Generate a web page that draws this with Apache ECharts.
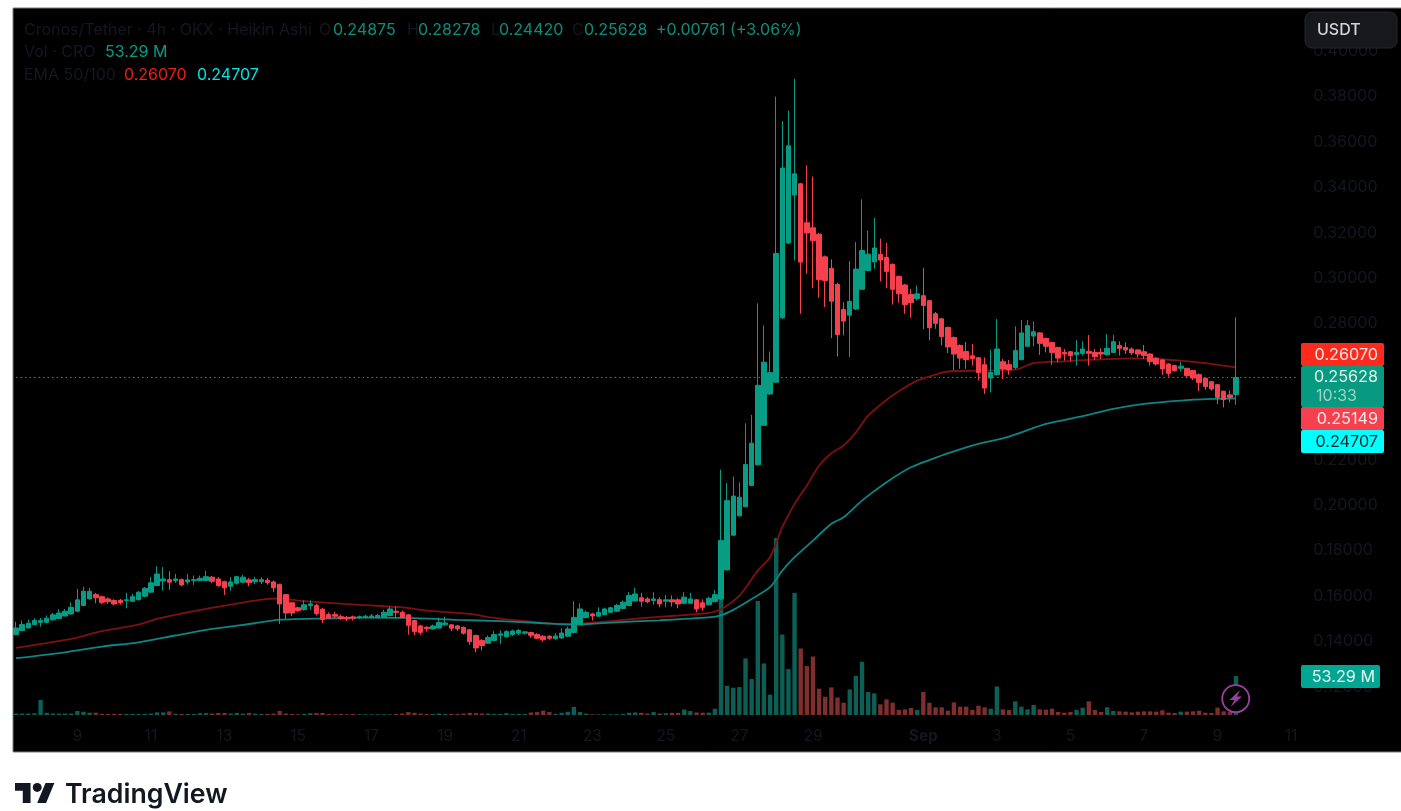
<!DOCTYPE html>
<html><head><meta charset="utf-8">
<style>html,body{margin:0;padding:0;background:#fff}#c{width:1401px;height:811px}</style>
<script src="https://cdn.jsdelivr.net/npm/echarts@6/dist/echarts.min.js"></script>
</head><body><div id="c"></div>
<script>
const opens=[.1430,.1448,.1459,.1474,.1484,.1484,.1495,.1501,.1512,.1521,
.1533,.1558,.1587,.1606,.1597,.1587,.1580,.1581,.1580,.1577,
.1584,.1599,.1617,.1646,.1666,.1672,.1668,.1672,.1662,.1668,
.1668,.1668,.1683,.1675,.1663,.1643,.1656,.1661,.1671,.1663,
.1663,.1669,.1662,.1652,.1606,.1570,.1548,.1540,.1558,.1558,
.1542,.1518,.1518,.1509,.1506,.1508,.1504,.1505,.1505,.1506,
.1506,.1514,.1533,.1528,.1517,.1492,.1468,.1462,.1455,.1459,
.1473,.1473,.1468,.1462,.1451,.1426,.1404,.1392,.1404,.1427,
.1420,.1430,.1436,.1436,.1439,.1430,.1423,.1423,.1412,.1415,
.1423,.1439,.1474,.1505,.1521,.1511,.1518,.1528,.1533,.1545,
.1558,.1578,.1592,.1587,.1580,.1584,.1577,.1583,.1583,.1568,
.1568,.1583,.1570,.1561,.1575,.1587,.1715,.1868,.1953,.1993,
.2087,.2178,.2352,.2490,.2542,.2826,.3155,.3366,.3416,.3244,
.3222,.3194,.3094,.3043,.2973,.2862,.2837,.2864,.2951,.3034,
.3072,.3105,.3091,.3061,.3008,.2970,.2928,.2911,.2923,.2901,
.2843,.2821,.2783,.2739,.2704,.2677,.2658,.2650,.2619,.2560,
.2575,.2632,.2619,.2607,.2641,.2700,.2745,.2759,.2735,.2717,
.2695,.2673,.2676,.2663,.2669,.2678,.2673,.2673,.2663,.2673,
.2703,.2695,.2688,.2684,.2676,.2666,.2648,.2640,.2622,.2615,
.2603,.2603,.2593,.2575,.2559,.2544,.2531,.2502,.2486,.24875];
const closes=[.1459,.1474,.1480,.1492,.1492,.1502,.1517,.1525,.1533,.1550,
.1583,.1621,.1621,.1592,.1572,.1575,.1565,.1571,.1583,.1597,
.1617,.1634,.1658,.1697,.1675,.1661,.1675,.1649,.1671,.1672,
.1678,.1685,.1665,.1646,.1636,.1662,.1685,.1683,.1659,.1672,
.1672,.1659,.1636,.1565,.1525,.1525,.1536,.1561,.1565,.1523,
.1496,.1503,.1511,.1501,.1499,.1502,.1509,.1511,.1512,.1514,
.1528,.1543,.1528,.1506,.1471,.1443,.1440,.1457,.1468,.1483,
.1481,.1458,.1455,.1436,.1399,.1371,.1382,.1417,.1430,.1433,
.1443,.1446,.1448,.1442,.1427,.1414,.1407,.1414,.1424,.1437,
.1455,.1506,.1543,.1528,.1512,.1528,.1543,.1548,.1558,.1573,
.1602,.1609,.1577,.1575,.1587,.1565,.1583,.1574,.1565,.1595,
.1587,.1543,.1550,.1590,.1606,.1844,.2020,.2040,.2035,.2179,
.2273,.2528,.2630,.2584,.3109,.3485,.3583,.3460,.3071,.3199,
.3165,.2993,.2990,.2899,.2752,.2811,.2898,.3040,.3122,.3106,
.3133,.3080,.3030,.2951,.2931,.2884,.2892,.2931,.2880,.2782,
.2801,.2743,.2697,.2666,.2648,.2641,.2645,.2584,.2516,.2585,
.2688,.2600,.2597,.2681,.2759,.2791,.2764,.2713,.2700,.2673,
.2648,.2666,.2659,.2673,.2688,.2669,.2654,.2666,.2691,.2720,
.2691,.2684,.2671,.2666,.2659,.2632,.2622,.2600,.2581,.2593,
.2612,.2571,.2560,.2541,.2522,.2512,.2475,.2465,.2475,.25628];
const lows=[.1427,.1445,.1459,.1471,.1465,.1480,.1492,.1499,.1511,.1518,
.1528,.1555,.1586,.1568,.1565,.1565,.1558,.1562,.1546,.1574,
.1580,.1594,.1614,.1643,.1624,.1627,.1658,.1643,.1650,.1649,
.1665,.1665,.1656,.1641,.1605,.1624,.1650,.1656,.1643,.1653,
.1653,.1650,.1617,.1477,.1499,.1511,.1530,.1536,.1539,.1514,
.1480,.1501,.1502,.1495,.1489,.1492,.1499,.1501,.1501,.1502,
.1504,.1511,.1504,.1502,.1430,.1427,.1429,.1443,.1451,.1457,
.1467,.1445,.1446,.1430,.1385,.1352,.1360,.1389,.1401,.1389,
.1417,.1424,.1427,.1430,.1415,.1411,.1399,.1407,.1408,.1412,
.1420,.1436,.1471,.1502,.1492,.1509,.1515,.1526,.1530,.1542,
.1555,.1575,.1553,.1568,.1562,.1550,.1550,.1553,.1546,.1565,
.1565,.1528,.1535,.1558,.1573,.1580,.1712,.1865,.1950,.1991,
.2084,.2175,.2349,.2485,.2540,.2820,.3150,.3078,.2843,.3020,
.2956,.2914,.2873,.2736,.2655,.2748,.2653,.2860,.2948,.3031,
.3042,.2986,.2956,.2884,.2892,.2843,.2826,.2902,.2776,.2726,
.2777,.2704,.2670,.2594,.2601,.2601,.2616,.2549,.2490,.2497,
.2572,.2556,.2575,.2600,.2640,.2698,.2700,.2662,.2673,.2618,
.2629,.2637,.2634,.2615,.2659,.2615,.2640,.2644,.2659,.2671,
.2659,.2666,.2662,.2651,.2644,.2615,.2615,.2574,.2566,.2588,
.2588,.2560,.2552,.2502,.2508,.2505,.2446,.2431,.2453,.24420];
const highs=[.1487,.1492,.1496,.1502,.1503,.1514,.1525,.1542,.1542,.1572,
.1631,.1641,.1636,.1614,.1602,.1594,.1586,.1587,.1614,.1609,
.1621,.1639,.1683,.1731,.1727,.1709,.1697,.1677,.1697,.1690,
.1690,.1712,.1688,.1683,.1668,.1683,.1688,.1693,.1680,.1685,
.1683,.1680,.1668,.1653,.1609,.1572,.1553,.1580,.1580,.1565,
.1548,.1528,.1531,.1518,.1512,.1514,.1514,.1517,.1521,.1521,
.1539,.1553,.1553,.1536,.1521,.1496,.1473,.1467,.1474,.1504,
.1509,.1477,.1473,.1465,.1455,.1430,.1410,.1426,.1445,.1448,
.1449,.1452,.1454,.1445,.1443,.1436,.1427,.1427,.1436,.1458,
.1465,.1577,.1568,.1536,.1526,.1550,.1549,.1553,.1565,.1580,
.1617,.1636,.1614,.1595,.1617,.1595,.1605,.1602,.1590,.1617,
.1614,.1587,.1585,.1597,.1627,.2157,.2097,.2126,.2101,.2361,
.2398,.2889,.2792,.2677,.3800,.3692,.3739,.3878,.3420,.3497,
.3448,.3200,.3100,.3083,.2980,.2895,.3075,.3159,.3347,.3210,
.3265,.3174,.3155,.3065,.3012,.2975,.2952,.2968,.3046,.2905,
.2851,.2825,.2787,.2743,.2708,.2719,.2711,.2652,.2651,.2685,
.2820,.2644,.2640,.2788,.2816,.2816,.2810,.2762,.2738,.2720,
.2698,.2688,.2679,.2728,.2722,.2750,.2688,.2691,.2754,.2750,
.2722,.2717,.2695,.2688,.2706,.2669,.2651,.2643,.2625,.2618,
.2632,.2605,.2595,.2581,.2563,.2547,.2534,.2505,.2505,.28278];
const volumes=[2,2,2,2.3,20.5,3,2,2,2,2,
5.5,4.5,3.2,3.2,1.5,1.5,1.5,1.5,1.5,1.5,
1.5,1.5,2,3.6,3.6,5,1.5,1.5,1.5,1.5,
2.5,2.5,2,2.7,2.7,2,2.7,1.8,2.7,1.8,
1.5,1.5,2,5.5,2,1.5,1,1.5,2.5,2.5,
2.7,1.5,1,1.5,1,1.5,1,1,1,1,
1,1,1.5,2,4,3,2,1.5,1.5,2,
1.5,1.5,1.5,2,3,2.5,2,2,1.5,1.5,
2.5,1.5,1.5,1.5,3.5,4,6,4,1.5,3,
4.5,11,4,2,1,1,1,1,1,1.5,
3,3.5,3,2,4,2,2.5,3,3,7.5,
5.5,3.5,3.2,3.2,8.6,160,40,37.3,38.2,77.4,
49.1,156,70.5,27.8,242,110,62.8,167,91,66.9,
80,36,25,37.8,24,16.8,35,53.7,72.8,31.4,
29.6,14.6,21.4,16.8,6.8,7.7,9.6,6.8,31.4,16.8,
10.5,10.5,5.9,17.3,11.4,11.4,6.8,12.7,10.5,8.6,
39,7.7,6.8,18.7,11.4,7.7,13.7,7.7,7.3,8.6,
4.1,3.2,4.1,6.8,10,18.7,6.8,4.1,10.5,5.5,
5,4.6,3.6,4.6,5,5,4.6,6.4,3.2,2.7,
4.6,4.6,5,5.9,3.2,2.7,10,5,4,53.29];
// EMA readings: [candle index, value], read at the points where the curve could be read
const ema50=[[0,.1371],[9,.1411],[14,.1445],[20,.1474],[23,.1499],[29,.1533],[35,.1562],[41,.1587],[43,.1589],[46,.1580],[56,.1561],[63,.1550],[67,.1536],[74,.1521],[78,.1504],[84,.1487],[89,.1477],[92,.1479],[97,.1489],[102,.1502],[108,.1514],[113,.1526],[115,.1542],[118,.1602],[121,.1712],[123,.1771],[125,.1903],[127,.2006],[129,.2087],[131,.2175],[133,.2229],[135,.2263],[137,.2321],[139,.2395],[142,.2464],[144,.2502],[147,.2549],[150,.2575],[152,.2589],[157,.2593],[163,.2597],[166,.2626],[171,.2634],[176,.2641],[182,.2647],[186,.2644],[190,.2637],[194,.2626],[199,.2607]];
const ema100=[[0,.1326],[8,.1352],[14,.1377],[20,.1396],[26,.1426],[32,.1455],[39,.1480],[43,.1496],[52,.1502],[56,.1505],[64,.1504],[72,.1495],[79,.1489],[86,.1480],[91,.1474],[97,.1483],[105,.1493],[113,.1506],[115,.1515],[117,.1539],[120,.1587],[123,.1639],[125,.1712],[127,.1771],[130,.1844],[133,.1918],[135,.1947],[138,.2020],[142,.2101],[146,.2167],[151,.2219],[155,.2255],[157,.2270],[162,.2302],[168,.2358],[174,.2392],[179,.2424],[184,.2446],[190,.2461],[195,.2468],[199,.24707]];
const dayLabels={10:'9',22:'11',34:'13',46:'15',58:'17',70:'19',82:'21',94:'23',106:'25',118:'27',130:'29',148:'Sep',160:'3',172:'5',184:'7',196:'9',208:'11'};
const lastClose=0.25628;
const legendRows=[
 ['Cronos/Tether · 4h · OKX · Heikin Ashi',24,30,'d'],['O',319,30,'d'],['0.24875',333,30,'g'],['H',407,30,'d'],['0.28278',418,30,'g'],['L',491,30,'d'],['0.24420',499,30,'g'],['C',572,30,'d'],['0.25628',584,30,'g'],['+0.00761 (+3.06%)',656,30,'g'],
 ['Vol · CRO',24,52,'d'],['53.29 M',105,52,'g2'],
 ['EMA 50/100',24,75,'d'],['0.26070',124,75,'r'],['0.24707',197,75,'c']];
const legendColors={d:'#15171f',g:'#0a8f7c',g2:'#0a9a88',r:'#f01d14',c:'#00e5e5'};
const tags=[['0.26070',343,366,'#ff2a1c','#f3e9e6'],['0.25149',407,430,'#f7404e','#f6e6e6'],['0.24707',430,453,'#00ffff','#0e2a2c']];
const PLOT_FONT='Inter, "Noto Sans", sans-serif';

const N=210;
const categories=Array.from({length:N},(_,i)=>String(i));
const UP='#099c85',DOWN='#f7404e';
const candleData=opens.map((o,i)=>[o,closes[i],lows[i],highs[i]]);
const volData=volumes.map((v,i)=>({value:v,itemStyle:{color:closes[i]>=opens[i]?'#0c5f55':'#7d2e2d'}}));
const txt=(t,x,y,fill,size,weight,align)=>({type:'text',z:100,silent:true,x,y,style:{text:t,fill,fontSize:size,fontWeight:weight||400,fontFamily:PLOT_FONT,align:align||'left',verticalAlign:'middle'}});
const g=[];
g.push({type:'rect',z:-10,silent:true,shape:{x:13,y:8,width:1390,height:744},style:{fill:'#000',stroke:'#7c7c7c',lineWidth:1}});
legendRows.forEach(r=>g.push(txt(r[0],r[1],r[2],legendColors[r[3]],16)));
g.push({type:'rect',z:100,silent:true,shape:{x:1305,y:12,width:92,height:36,r:7},style:{fill:'#17181c',stroke:'#26272b',lineWidth:1}});
g.push(txt('USDT',1317,30,'#d1d4dc',16,500));
tags.forEach(t=>{
 g.push({type:'rect',z:100,silent:true,shape:{x:1301,y:t[1],width:83,height:t[2]-t[1],r:2},style:{fill:t[3]}});
 g.push(txt(t[0],1378,(t[1]+t[2])/2+.5,t[4],16.2,400,'right'));
});
g.push({type:'rect',z:100,silent:true,shape:{x:1301,y:366,width:83,height:41,r:2},style:{fill:'#089981'}});
g.push(txt('0.25628',1378,377,'#e4f1ee',16.2,400,'right'));
g.push(txt('10:33',1357,396,'#9fd2c8',16,400,'right'));
g.push({type:'rect',z:100,silent:true,shape:{x:1301,y:665,width:79,height:23,r:2},style:{fill:'#00a692'}});
g.push(txt('53.29 M',1375,677,'#e8f6f3',16.2,400,'right'));
g.push({type:'circle',z:100,silent:true,shape:{cx:1235.7,cy:698.7,r:13.5},style:{fill:'#000',stroke:'#9b3f9e',lineWidth:1.8}});
g.push({type:'polygon',z:101,silent:true,shape:{points:[[1240,690],[1229.5,700],[1234.5,700],[1230.5,707],[1242,696.5],[1237,696.5]]},style:{fill:'#9b3f9e'}});
const LX=15,LY=778.6,LS=1.11;
const logoPt=p=>[LX+p[0]*LS,LY+p[1]*LS];
g.push({type:'polygon',z:100,silent:true,shape:{points:[[0,4],[14,4],[14,22],[7,22],[7,11],[0,11]].map(logoPt)},style:{fill:'#131722'}});
g.push({type:'polygon',z:100,silent:true,shape:{points:[[20,22],[27.5,4],[35.5,4],[28,22]].map(logoPt)},style:{fill:'#131722'}});
g.push({type:'circle',z:100,silent:true,shape:{cx:LX+20*LS,cy:LY+8*LS,r:4*LS},style:{fill:'#131722'}});
g.push(txt('TradingView',65,795,'#131722',26.7,600));

const chart=echarts.init(document.getElementById('c'),null,{renderer:'canvas'});
chart.setOption({
 animation:false,backgroundColor:'#fff',
 graphic:{elements:g},
 grid:[{left:13,width:1287.3,top:5.8,height:726.4},{left:13,width:1287.3,top:500,height:215}],
 xAxis:[
  {type:'category',gridIndex:0,data:categories,show:false,boundaryGap:true},
  {type:'category',gridIndex:1,data:categories,boundaryGap:true,axisLine:{show:false},axisTick:{show:false},
   axisLabel:{interval:0,margin:13,hideOverlap:false,color:'#15171f',fontSize:15.5,fontFamily:PLOT_FONT,
    formatter:(v,i)=>{const s=dayLabels[i];return s?(s==='Sep'?'{b|Sep}':s):'';},
    rich:{b:{fontWeight:700,color:'#15171f',fontSize:15.5,fontFamily:PLOT_FONT}}}}],
 yAxis:[
  {type:'value',gridIndex:0,position:'right',min:.10,max:.42,interval:.02,splitLine:{show:false},axisLine:{show:false},axisTick:{show:false},
   axisLabel:{margin:13,color:'#15171f',fontSize:16,fontFamily:PLOT_FONT,formatter:v=>(Math.abs(v-.10)<1e-6||Math.abs(v-.42)<1e-6)?'':v.toFixed(5)}},
  {type:'value',gridIndex:1,min:0,max:294,show:false,splitLine:{show:false}}],
 series:[
  {type:'bar',name:'Vol',xAxisIndex:1,yAxisIndex:1,data:volData,barWidth:4.4,z:1,silent:true},
  {type:'line',name:'Last',xAxisIndex:0,yAxisIndex:0,data:[[0,lastClose],[N-1,lastClose]],showSymbol:false,symbol:'none',z:2,silent:true,lineStyle:{color:'#0fa08d',type:[1.5,3],width:1}},
  {type:'line',name:'EMA50',xAxisIndex:0,yAxisIndex:0,data:ema50,showSymbol:false,symbol:'none',smooth:.25,z:2,silent:true,lineStyle:{color:'#7f1010',width:1.8}},
  {type:'line',name:'EMA100',xAxisIndex:0,yAxisIndex:0,data:ema100,showSymbol:false,symbol:'none',smooth:.25,z:2,silent:true,lineStyle:{color:'#0e8585',width:1.8}},
  {type:'candlestick',name:'CRO',xAxisIndex:0,yAxisIndex:0,data:candleData,barWidth:5,z:3,silent:true,
   itemStyle:{color:UP,color0:DOWN,borderColor:UP,borderColor0:DOWN,borderWidth:1}}
 ]
});
</script></body></html>
